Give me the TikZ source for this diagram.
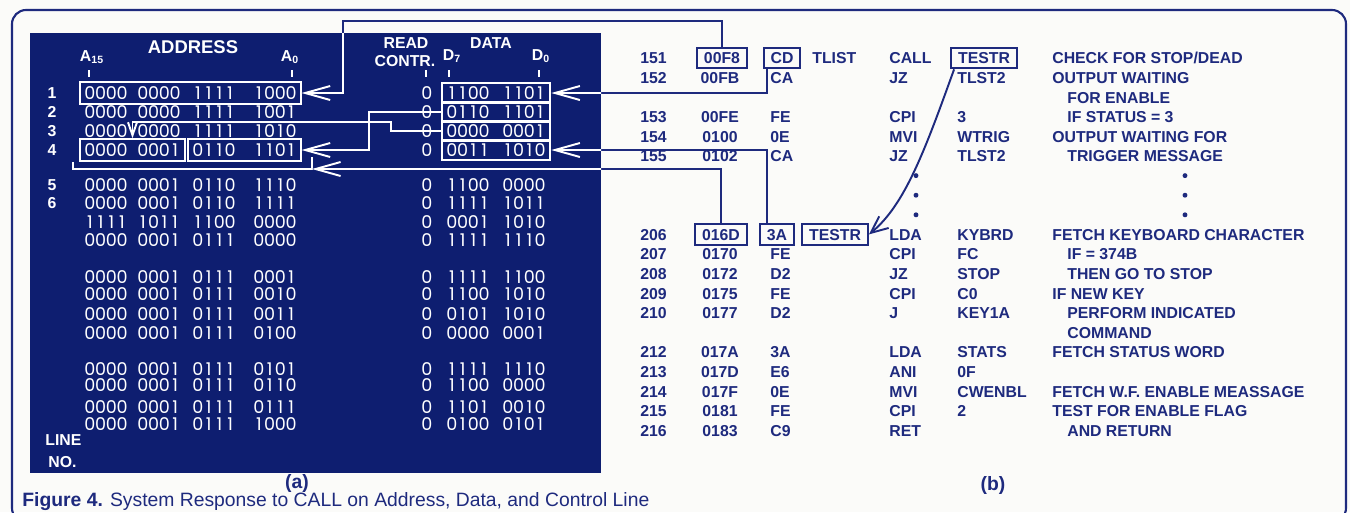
\documentclass[tikz,border=0pt]{standalone}
\usepackage{fontspec}
\setmainfont{Liberation Sans}
\newfontfamily\bitfont{Poppins}
\usetikzlibrary{arrows.meta,positioning,fit,calc}
\definecolor{navy}{RGB}{30,42,126}
\definecolor{panel}{RGB}{14,30,112}
\definecolor{paper}{RGB}{251,251,249}
\newcommand\lstf{\fontsize{9}{10}\selectfont\bfseries}
% four bits on a fixed pitch
\newcommand\nibble[4]{\makebox[0.61em]{#1}\makebox[0.61em]{#2}\makebox[0.61em]{#3}\makebox[0.61em]{#4}}
\tikzset{
  >={Straight Barb[length=5mm,width=2.8mm]},
  bit/.style={font=\bitfont\fontsize{10}{11}\selectfont,text=white,inner sep=0pt},
  hdr/.style={font=\lstf,text=white,inner sep=0pt},
  lstline/.style={font=\lstf,text=navy,inner sep=0pt,anchor=west,
    text height=6.6pt,text depth=0pt},
  hbox/.style={lstline,anchor=center,draw=navy,line width=1.1pt,
    inner xsep=4pt,inner ysep=2.6pt},
  wbox/.style={draw=white,line width=1.1pt,inner xsep=2.2pt,inner ysep=2.3pt},
  link/.style={draw=#1,line width=1.1pt},
  link/.default=navy,
}
% connectors that leave the panel
\newcommand\buslinks[1]{%
  \draw[link=#1,->] (adr151.north) |- (343,21) |- (ad1.east);
  \draw[link=#1,->] ([xshift=0.08cm]op151.south west) |- (dd1.east);
  \draw[link=#1,->] ([xshift=0.16cm]op206.north west) |- (dd4.east);
  \draw[link=#1,->] (adr206.north) |- (brr);
}

\begin{document}
\begin{tikzpicture}[x=0.02cm,y=-0.02cm]
  \useasboundingbox (0,0) rectangle (1350,512);
  \fill[paper] (0,0) rectangle (1350,512);
  \draw[navy,line width=1.2pt,rounded corners=0.28cm] (12,10) rectangle (1346,522);
  \fill[panel] (30,33) rectangle (601,473);

  % (a) bus states
  \node[hdr,font=\bfseries\fontsize{10.5}{11}\selectfont] (addr) at (193,47) {ADDRESS};
  \node[hdr] (a15) at (92,57) {A\textsubscript{15}};
  \node[hdr] (a0) at (290,57) {A\textsubscript{0}};
  \node[hdr] (rd) at (406,43) {READ};
  \node[hdr] (ctr) at (405,61) {CONTR.};
  \node[hdr] (dat) at (491,43) {DATA};
  \node[hdr] (d7) at (452,56) {D\textsubscript{7}};
  \node[hdr] (d0) at (541,56) {D\textsubscript{0}};
  \foreach \xx in {89,292,426,449,539} \draw[white,line width=1pt] (\xx,70) -- (\xx,77);
  \foreach \n/\yy/\ga/\gb/\gc/\gd/\da/\db in {
      1/93/0000/0000/1111/1000/1100/1101, 2/112/0000/0000/1111/1001/0110/1101,
      3/131/0000/0000/1111/1010/0000/0001, 4/150/0000/0001/0110/1101/0011/1010,
      5/185/0000/0001/0110/1110/1100/0000, 6/203/0000/0001/0110/1111/1111/1011,
      7/222/1111/1011/1100/0000/0001/1010, 8/240/0000/0001/0111/0000/1111/1110,
      9/277/0000/0001/0111/0001/1111/1100, 10/294/0000/0001/0111/0010/1100/1010,
      11/314/0000/0001/0111/0011/0101/1010, 12/333/0000/0001/0111/0100/0000/0001,
      13/369/0000/0001/0111/0101/1111/1110, 14/385/0000/0001/0111/0110/1100/0000,
      15/407/0000/0001/0111/0111/1101/0010, 16/424/0000/0001/0111/1000/0100/0101}{
    \node[bit] (a\n-1) at (106,\yy) {\expandafter\nibble\ga};
    \node[bit] (a\n-2) at (159,\yy) {\expandafter\nibble\gb};
    \node[bit] (a\n-3) at (214,\yy) {\expandafter\nibble\gc};
    \node[bit] (a\n-4) at (275,\yy) {\expandafter\nibble\gd};
    \node[bit] (r\n) at (427,\yy) {0};
    \node[bit] (d\n-1) at (468,\yy) {\expandafter\nibble\da};
    \node[bit] (d\n-2) at (524,\yy) {\expandafter\nibble\db};
    \ifnum\n<7 \node[hdr] (no\n) at (52,\yy) {\n}; \fi
  }
  \node[hdr,anchor=west] (lin) at (45,440) {LINE};
  \node[hdr,anchor=west] (lno) at (48,462) {NO.};
  \node[wbox,fit=(a1-1)(a1-4)] (ad1) {};
  \node[wbox,fit=(a4-1)(a4-2)] (ab4a) {};
  \node[wbox,fit=(a4-3)(a4-4)] (ab4b) {};
  \foreach \n in {1,...,4} \node[wbox,fit=(d\n-1)(d\n-2),inner xsep=2.6pt,inner ysep=1.9pt] (dd\n) {};
  \coordinate (brr) at (312,169);
  \draw[link=white,->] (dd2.west) -- ++(-72,0) |- (ab4b.east);
  \draw[link=white,->,>={Straight Barb[length=2.6mm,width=1.8mm]}] (dd3.west) -- ++(-50,0) -- ++(0,-9) -| (ab4a.north);
  \draw[link=white] (ab4a.south west) ++(-6,0) |- (brr) -- ++(0,-12);

  % (b) listing
  \node[lstline] (ln151) at (640,58) {151};
  \node[hbox] (adr151) at (722,58) {00F8};
  \node[hbox] (op151) at (782,58) {CD};
  \node[lstline] (lab151) at (812,58) {TLIST};
  \node[lstline] (mn151) at (889,58) {CALL};
  \node[hbox] (arg151) at (984,58) {TESTR};
  \node[lstline] (ln206) at (640,234.4) {206};
  \node[hbox] (adr206) at (721,234.4) {016D};
  \node[hbox] (op206) at (777,234.4) {3A};
  \node[hbox] (lab206) at (835,234.4) {TESTR};
  \node[lstline] (mn206) at (889,234.4) {LDA};
  \node[lstline] (arg206) at (957,234.4) {KYBRD};
  \foreach \k/\no/\ad/\op/\mn/\ar [evaluate=\k as \yy using 58+19.6*\k] in {
      1/152/00FB/CA/JZ/TLST2, 3/153/00FE/FE/CPI/3, 4/154/0100/0E/MVI/WTRIG,
      5/155/0102/CA/JZ/TLST2, 10/207/0170/FE/CPI/FC, 11/208/0172/D2/JZ/STOP,
      12/209/0175/FE/CPI/C0, 13/210/0177/D2/J/KEY1A, 15/212/017A/3A/LDA/STATS,
      16/213/017D/E6/ANI/0F, 17/214/017F/0E/MVI/CWENBL, 18/215/0181/FE/CPI/2}{
    \node[lstline] (ln\no) at (640,\yy) {\no};
    \node[lstline,anchor=center] (adr\no) at (720,\yy) {\ad};
    \node[lstline] (op\no) at (770,\yy) {\op};
    \node[lstline] (mn\no) at (889,\yy) {\mn};
    \node[lstline] (arg\no) at (957,\yy) {\ar};
  }
  \node[lstline] (ln216) at (640,430.4) {216};
  \node[lstline,anchor=center] (adr216) at (720,430.4) {0183};
  \node[lstline] (op216) at (770,430.4) {C9};
  \node[lstline] (mn216) at (889,430.4) {RET};
  \foreach \k/\xx/\txt [evaluate=\k as \yy using 58+19.6*\k] in {
      0/1052/{CHECK FOR STOP/DEAD}, 1/1052/OUTPUT WAITING, 2/1067/FOR ENABLE,
      3/1067/IF STATUS = 3, 4/1052/OUTPUT WAITING FOR, 5/1067/TRIGGER MESSAGE,
      9/1052/FETCH KEYBOARD CHARACTER, 10/1067/IF = 374B, 11/1067/THEN GO TO STOP,
      12/1052/IF NEW KEY, 13/1067/PERFORM INDICATED, 14/1067/COMMAND,
      15/1052/FETCH STATUS WORD, 17/1052/FETCH W.F. ENABLE MEASSAGE,
      18/1052/TEST FOR ENABLE FLAG, 19/1067/AND RETURN}
    \node[lstline] (cm\k) at (\xx,\yy) {\txt};
  \foreach \k [evaluate=\k as \yy using 58+19.6*\k] in {6,7,8}{
    \fill[navy] (916,\yy) circle (1.4pt);
    \fill[navy] (1185,\yy) circle (1.4pt);
  }
  \draw[link,->,>={Straight Barb[length=3.4mm,width=3mm]}] ([xshift=0.08cm]arg151.south west)
    .. controls (925,150) and (905,205) .. (lab206.east);

  \buslinks{navy}
  \begin{scope}
    \clip (30,33) rectangle (601,473);
    \buslinks{white}
  \end{scope}

  \node[font=\bfseries\fontsize{11}{12}\selectfont,text=navy] (pa) at (297,483) {(a)};
  \node[font=\bfseries\fontsize{11}{12}\selectfont,text=navy] (pb) at (993,485) {(b)};
  \node[font=\fontsize{11}{12}\selectfont,text=navy,anchor=west,inner sep=0pt] (cap) at (22,502)
    {\textbf{Figure 4.} System Response to CALL on Address, Data, and Control Line};
\end{tikzpicture}
\end{document}
